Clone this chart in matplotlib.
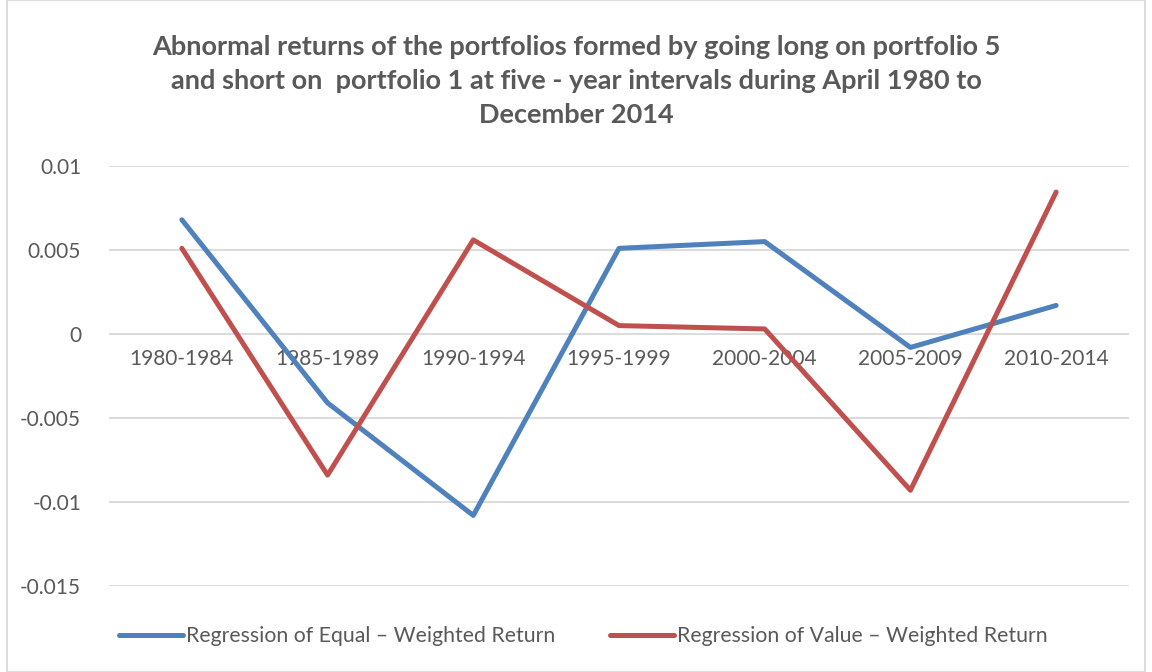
import matplotlib.pyplot as plt
import numpy as np
from matplotlib.patches import Rectangle

periods = ["1980-1984", "1985-1989", "1990-1994", "1995-1999",
           "2000-2004", "2005-2009", "2010-2014"]
equal_weighted = [0.0068, -0.0041, -0.0108, 0.0051, 0.0055, -0.0008, 0.0017]
value_weighted = [0.0051, -0.0084, 0.0056, 0.0005, 0.0003, -0.0093, 0.00845]

title = ("Abnormal returns of the portfolios formed by going long on portfolio 5\n"
         "and short on  portfolio 1 at five - year intervals during April 1980 to\n"
         "December 2014")

plt.rcParams["font.family"] = ["Lato", "DejaVu Sans"]

fig = plt.figure(figsize=(11.52, 6.72), dpi=100)
ax = fig.add_axes([109 / 1152, 1 - 586 / 672, (1129 - 109) / 1152, (586 - 166) / 672])

x = np.arange(len(periods))
ax.plot(x, equal_weighted, color="#4F81BD", lw=3.6, solid_capstyle="round",
        solid_joinstyle="round", label="Regression of Equal \u2013 Weighted Return")
ax.plot(x, value_weighted, color="#C0504D", lw=3.6, solid_capstyle="round",
        solid_joinstyle="round", label="Regression of Value \u2013 Weighted Return")

ax.set_xlim(-0.5, len(periods) - 0.5)
ax.set_ylim(-0.015, 0.01)
ax.set_yticks([0.01, 0.005, 0, -0.005, -0.01, -0.015])
ax.set_yticklabels(["0.01", "0.005", "0", "-0.005", "-0.01", "-0.015"])
ax.set_xticks(x)
ax.set_xticklabels(periods)

ax.grid(True, axis="y", color="#D9D9D9", lw=1.3)
ax.set_axisbelow(True)
for side in ["top", "right", "left"]:
    ax.spines[side].set_visible(False)
ax.spines["bottom"].set_position(("data", 0))
ax.spines["bottom"].set_visible(False)
ax.tick_params(axis="both", length=0, labelsize=15, colors="#595959")
ax.tick_params(axis="x", pad=11)
ax.tick_params(axis="y", pad=20)

fig.text(0.5, 1 - 81 / 672, title, ha="center", va="center", fontsize=19.5,
         fontweight="bold", color="#595959", linespacing=1.48)

ax.legend(loc="center", bbox_to_anchor=(0.465, -0.12), ncol=2, frameon=False,
          fontsize=15.3, labelcolor="#595959", handlelength=3.0, handletextpad=0.15,
          columnspacing=2.6)

fig.patches.append(Rectangle((7 / 1152, 0), 1 - 14 / 1152, 1, transform=fig.transFigure,
                             fill=False, edgecolor="#D9D9D9", lw=1.3))

fig.savefig("out.png", dpi=100)
